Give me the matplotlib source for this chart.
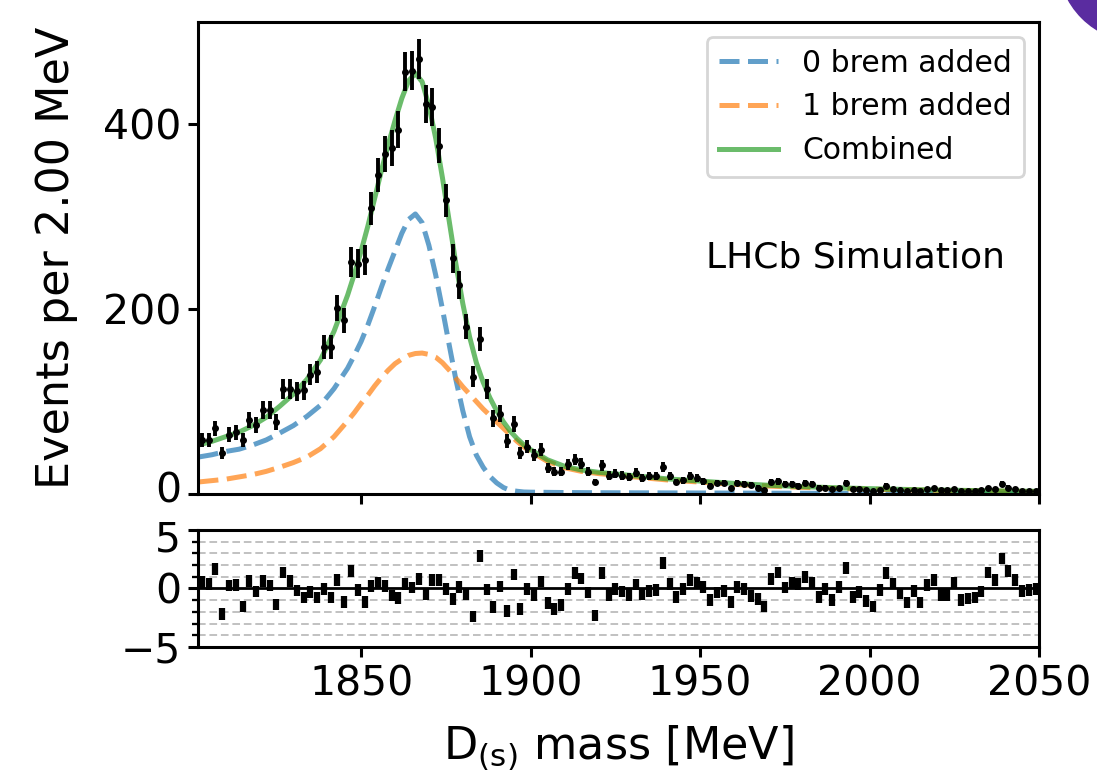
import numpy as np
import matplotlib
matplotlib.use("Agg")
import matplotlib.pyplot as plt
import matplotlib.transforms as mtransforms
from matplotlib.patches import Circle

# ---------------- data ----------------
bin_low, bin_high, bin_width = 1802, 2050, 2
counts = [58, 58, 71, 44, 64, 67, 58, 80, 75, 91,
          91, 78, 114, 114, 111, 112, 129, 132, 159, 159,
          201, 188, 251, 249, 253, 309, 345, 368, 374, 394,
          457, 458, 471, 422, 419, 377, 318, 255, 226, 181,
          127, 168, 114, 82, 87, 57, 76, 44, 51, 42,
          48, 28, 24, 24, 32, 37, 33, 24, 13, 31,
          20, 22, 20, 18, 23, 17, 19, 19, 29, 19,
          13, 15, 19, 17, 14, 9, 12, 12, 6, 12,
          11, 10, 7, 4, 13, 14, 11, 11, 9, 12,
          11, 7, 7, 5, 6, 12, 5, 5, 4, 3,
          4, 9, 5, 4, 3, 4, 3, 5, 6, 4,
          4, 5, 3, 3, 3, 4, 6, 5, 11, 7,
          5, 3, 3, 3]
residuals = [0.54, 0.40, 1.67, -2.15, 0.25, 0.31, -1.53, 0.65, -0.25, 0.65,
             0.25, -1.38, 1.38, 0.65, -0.17, -0.76, -0.31, -0.76, -0.03, -0.76,
             0.73, -1.16, 1.50, -0.14, -1.13, 0.23, 0.50, 0.23, -0.60, -0.80,
             0.37, 0.08, 0.80, -0.48, 0.70, 0.70, -0.06, -0.90, 0.14, -0.48,
             -2.40, 2.77, -0.08, -1.60, 0.17, -1.90, 1.20, -1.75, -0.05, -0.55,
             0.60, -1.25, -1.75, -1.40, -0.05, 1.30, 0.85, -0.33, -2.30, 1.30,
             -0.55, -0.05, -0.25, -0.55, 0.33, -0.50, -0.20, -0.14, 2.20, 0.37,
             -0.70, -0.06, 0.70, 0.50, 0.14, -1.00, -0.35, -0.20, -1.13, 0.14,
             -0.06, -0.62, -0.90, -1.55, 0.80, 1.38, 0.08, 0.50, 0.37, 1.00,
             0.50, -0.70, -0.06, -1.00, 0.14, 1.78, -0.70, -0.28, -1.05, -1.55,
             -0.14, 1.35, 0.42, -0.42, -1.20, -0.22, -1.20, 0.30, 0.73, -0.54,
             -0.54, 0.45, -0.96, -0.85, -0.76, -0.25, 1.36, 0.73, 2.57, 1.50,
             0.73, -0.20, -0.10, -0.05]

curve_x = [1802, 1806, 1810, 1814, 1818, 1822, 1826, 1830, 1834, 1838,
           1842, 1846, 1848, 1850, 1852, 1854, 1856, 1858, 1860, 1862,
           1864, 1866, 1868, 1870, 1872, 1874, 1876, 1878, 1880, 1882,
           1884, 1886, 1888, 1890, 1892, 1894, 1896, 1898, 1900, 1905,
           1910, 1915, 1920, 1930, 1940, 1950, 1960, 1970, 1980, 1990,
           2000, 2010, 2020, 2030, 2040, 2050]
brem0 = [40, 42.5, 46, 48.5, 53, 58.5, 66, 74, 84, 96,
         114, 136, 150, 165, 183, 203, 224, 244, 263, 282,
         297, 303, 293.5, 269, 237, 200, 161, 123, 90, 62,
         42, 29, 19, 12, 7, 4, 3, 2.2, 2, 1.8,
         1.6, 1.5, 1.4, 1.3, 1.2, 1.1, 1.0, 0.9, 0.8, 0.7,
         0.6, 0.5, 0.45, 0.4, 0.35, 0.3]
brem1 = [13, 14.5, 16, 18.5, 21, 24.5, 29, 34, 40, 49,
         62, 79, 88, 98, 107, 117, 126, 134, 141, 146,
         150, 152, 152.5, 151, 148, 142, 134, 125, 116, 108,
         100, 92, 85, 78, 71, 64, 57, 51, 46, 35.2,
         28.4, 24.5, 22.1, 18.7, 15.3, 12.9, 10.5, 8.6, 7.2, 6.1,
         5.2, 4.5, 3.85, 3.4, 2.95, 2.6]

labels = ["0 brem added", "1 brem added", "Combined"]

# ---------------- plot ----------------
centers = np.arange(bin_low + bin_width / 2, bin_high, bin_width)
counts_a = np.array(counts, dtype=float)
combined = np.array(brem0) + np.array(brem1)

fig = plt.figure(figsize=(10.97, 7.77), dpi=100)
ax = fig.add_axes([0.1809, 0.3642, 0.7662, 0.6079])
rax = fig.add_axes([0.1809, 0.1673, 0.7662, 0.1506])

TICK = 29.5
LABEL = 32
LW_SP = 2.2
for a in (ax, rax):
    for s in a.spines.values():
        s.set_linewidth(LW_SP)
    a.tick_params(which='major', labelsize=TICK, width=LW_SP, length=7.5, pad=5)
    a.tick_params(which='minor', width=LW_SP * 0.75, length=4.5)
    a.set_xlim(bin_low, bin_high)

dash = (4.0, 1.7)
ax.plot(curve_x, brem0, ls='--', dashes=dash, color='#1f77b4', alpha=0.7, lw=3.6,
        label=labels[0])
ax.plot(curve_x, brem1, ls='--', dashes=dash, color='#ff7f0e', alpha=0.7, lw=3.6,
        label=labels[1])
ax.plot(curve_x, combined, ls='-', color='#2ca02c', alpha=0.7, lw=3.6, label=labels[2])
ax.errorbar(centers, counts_a, yerr=np.sqrt(counts_a), fmt='o', color='k',
            ms=4.0, elinewidth=2.8, capsize=0, zorder=5)
ax.set_ylim(0, 511)
ax.set_yticks([0, 200, 400])
ax.set_xticks([1850, 1900, 1950, 2000, 2050])
ax.tick_params(axis='x', labelbottom=False)
ax.set_ylabel("Events per 2.00 MeV", fontsize=LABEL, labelpad=18)
leg = ax.legend(loc='upper right', fontsize=21.5)
leg.get_frame().set_linewidth(2.0)
ax.text(0.96, 0.50, "LHCb Simulation", transform=ax.transAxes,
        ha='right', va='center', fontsize=26)

rax.set_ylim(-5, 5)
rax.set_yticks([-5, 0, 5])
rax.set_yticks([-4, -3, -2, -1, 1, 2, 3, 4], minor=True)
rax.grid(which='minor', axis='y', ls=(0, (5, 2.5)), color='#b0b0b0', lw=1.1)
rax.axhline(0, color='k', lw=2.0, zorder=2)
rax.errorbar(centers, residuals, yerr=0.5, fmt='none', ecolor='k',
             elinewidth=4.5, capsize=0, zorder=3)
rax.set_xticks([1850, 1900, 1950, 2000, 2050])
rax.set_xlabel(r"D$\mathregular{_{(s)}}$ mass [MeV]", fontsize=LABEL, labelpad=14)

# nudge the two touching tick labels ("0" of the top panel, "5" of the residual panel)
fig.canvas.draw()
t0 = ax.yaxis.get_major_ticks()[0].label1
t0.set_transform(t0.get_transform() +
                 mtransforms.ScaledTranslation(0, 5 / 72, fig.dpi_scale_trans))
t5 = rax.yaxis.get_major_ticks()[2].label1
t5.set_transform(t5.get_transform() +
                 mtransforms.ScaledTranslation(0, -4 / 72, fig.dpi_scale_trans))

fig.patches.append(Circle((11.40, 8.17), 0.82, transform=fig.dpi_scale_trans,
                          color='#5a2ca0', zorder=10))

fig.savefig("out.png", dpi=100)
